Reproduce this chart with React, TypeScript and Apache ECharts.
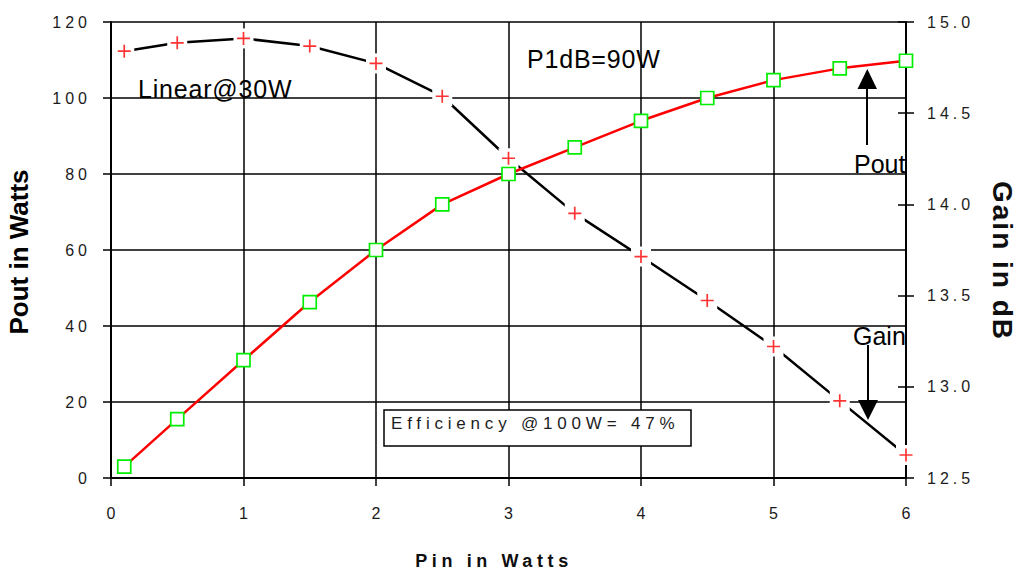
import React, { useEffect, useRef } from "react";
import * as echarts from "echarts";

// Input power (W)
const pinWatts = [0.1, 0.5, 1, 1.5, 2, 2.5, 3, 3.5, 4, 4.5, 5, 5.5, 6];
// Output power (W), left axis
const poutWatts = [3, 15.5, 31, 46.3, 60, 72, 80, 87, 94, 100, 104.7, 107.8, 109.8];
// Gain (dB), right axis
const gainDb = [14.84, 14.886, 14.91, 14.868, 14.773, 14.593, 14.253, 13.951, 13.714, 13.473, 13.221, 12.923, 12.626];

const xTicks = { min: 0, max: 6, interval: 1 };
const leftTicks = { min: 0, max: 120, interval: 20 };
const rightTicks = { min: 12.5, max: 15, interval: 0.5 };

const FONT = "'Liberation Sans', Arial, sans-serif";

const css = `
text[fill="#1c1c1c"] { letter-spacing: 4px; }
text[fill="#1d1d1d"] { letter-spacing: 4.8px; }
text[fill="#0e0e0e"] { letter-spacing: 4.6px; }
text[fill="#0f0f0f"] { letter-spacing: 2px; }
text[fill="#010101"] { letter-spacing: 0.8px; }
`;

export default function App() {
  const ref = useRef<HTMLDivElement>(null);
  useEffect(() => {
    const chart = echarts.init(ref.current!, null, { renderer: "svg" });
    const gainPairs = pinWatts.map((x, i) => [x, gainDb[i]]);
    const poutPairs = pinWatts.map((x, i) => [x, poutWatts[i]]);
    const option: any = {
      animation: false,
      backgroundColor: "#ffffff",
      grid: { left: 111, right: 110, top: 22, bottom: 96 },
      xAxis: {
        type: "value",
        min: xTicks.min,
        max: xTicks.max,
        interval: xTicks.interval,
        axisLine: { lineStyle: { color: "#000", width: 2 } },
        axisTick: { show: true, length: 8, lineStyle: { color: "#000", width: 1.5 } },
        axisLabel: { color: "#1b1b1b", fontFamily: FONT, fontSize: 16, margin: 27 },
        splitLine: { show: true, lineStyle: { color: "#000", width: 1.5 } },
      },
      yAxis: [
        {
          type: "value",
          position: "left",
          min: leftTicks.min,
          max: leftTicks.max,
          interval: leftTicks.interval,
          axisLine: { show: true, lineStyle: { color: "#000", width: 2 } },
          axisTick: { show: true, length: 8, lineStyle: { color: "#000", width: 1.5 } },
          axisLabel: { color: "#1c1c1c", fontFamily: FONT, fontSize: 16, margin: 20 },
          splitLine: { show: true, lineStyle: { color: "#000", width: 1.5 } },
        },
        {
          type: "value",
          position: "right",
          min: rightTicks.min,
          max: rightTicks.max,
          interval: rightTicks.interval,
          axisLine: { show: true, lineStyle: { color: "#000", width: 2 } },
          axisTick: { show: true, length: 8, lineStyle: { color: "#000", width: 1.5 } },
          axisLabel: {
            color: "#1c1c1c",
            fontFamily: FONT,
            fontSize: 16,
            margin: 21,
            formatter: (v: number) => v.toFixed(1),
          },
          splitLine: { show: false },
        },
        {
          type: "value",
          position: "right",
          min: rightTicks.min,
          max: rightTicks.max,
          interval: rightTicks.interval,
          axisLine: { show: false },
          axisTick: { show: true, inside: true, length: 8, lineStyle: { color: "#000", width: 1.5 } },
          axisLabel: { show: false },
          splitLine: { show: false },
        },
      ],
      series: [
        {
          name: "Gain line",
          type: "line",
          yAxisIndex: 1,
          data: gainPairs,
          z: 2,
          symbol: "rect",
          symbolSize: 20,
          itemStyle: { color: "#ffffff", borderWidth: 0 },
          lineStyle: { color: "#000", width: 2.5 },
          silent: true,
        },
        {
          name: "Gain",
          type: "scatter",
          yAxisIndex: 1,
          data: gainPairs,
          z: 3,
          symbol: "path://M6 0V12M0 6H12",
          symbolSize: 13,
          itemStyle: { color: "none", borderColor: "#ff0000", borderWidth: 1.7 },
        },
        {
          name: "Pout",
          type: "line",
          yAxisIndex: 0,
          data: poutPairs,
          z: 4,
          symbol: "rect",
          symbolSize: 13,
          itemStyle: { color: "#ffffff", borderColor: "#00ee00", borderWidth: 1.7 },
          lineStyle: { color: "#ff0000", width: 2.5 },
        },
      ],
      graphic: [
        { type: "text", z: 10, x: 138, y: 89, style: { text: "Linear@30W", fill: "#010101", font: `25px ${FONT}`, textAlign: "left", textVerticalAlign: "middle" } },
        { type: "text", z: 10, x: 527, y: 59, style: { text: "P1dB=90W", fill: "#010101", font: `25px ${FONT}`, textAlign: "left", textVerticalAlign: "middle" } },
        { type: "text", z: 10, x: 854, y: 164, style: { text: "Pout", fill: "#000", font: `25px ${FONT}`, textAlign: "left", textVerticalAlign: "middle" } },
        { type: "text", z: 10, x: 853, y: 336, style: { text: "Gain", fill: "#000", font: `25px ${FONT}`, textAlign: "left", textVerticalAlign: "middle" } },
        { type: "line", z: 10, shape: { x1: 867, y1: 145, x2: 867, y2: 88 }, style: { stroke: "#000", lineWidth: 2 } },
        { type: "polygon", z: 10, shape: { points: [[857.5, 89], [877, 89], [867.3, 69]] }, style: { fill: "#000" } },
        { type: "line", z: 10, shape: { x1: 868, y1: 345, x2: 868, y2: 401 }, style: { stroke: "#000", lineWidth: 2 } },
        { type: "polygon", z: 10, shape: { points: [[858, 400], [878, 400], [868, 420]] }, style: { fill: "#000" } },
        { type: "rect", z: 10, shape: { x: 384, y: 410, width: 307, height: 36 }, style: { fill: "#fff", stroke: "#000", lineWidth: 1.5 } },
        { type: "text", z: 11, x: 391, y: 423, style: { text: "Efficiency @100W= 47%", fill: "#1d1d1d", font: `17px ${FONT}`, textAlign: "left", textVerticalAlign: "middle" } },
        { type: "text", z: 10, x: 494, y: 561, style: { text: "Pin in Watts", fill: "#0e0e0e", font: `bold 18px ${FONT}`, textAlign: "center", textVerticalAlign: "middle" } },
        { type: "text", z: 10, x: 19, y: 252, rotation: Math.PI / 2, style: { text: "Pout in Watts", fill: "#000", font: `bold 26px ${FONT}`, textAlign: "center", textVerticalAlign: "middle" } },
        { type: "text", z: 10, x: 1002, y: 261, rotation: -Math.PI / 2, style: { text: "Gain in dB", fill: "#0f0f0f", font: `bold 28px ${FONT}`, textAlign: "center", textVerticalAlign: "middle" } },
      ],
    };
    chart.setOption(option);
    return () => chart.dispose();
  }, []);
  return (
    <>
      <style>{css}</style>
      <div ref={ref} style={{ position: "fixed", left: 0, top: 0, width: 1016, height: 574 }} />
    </>
  );
}
